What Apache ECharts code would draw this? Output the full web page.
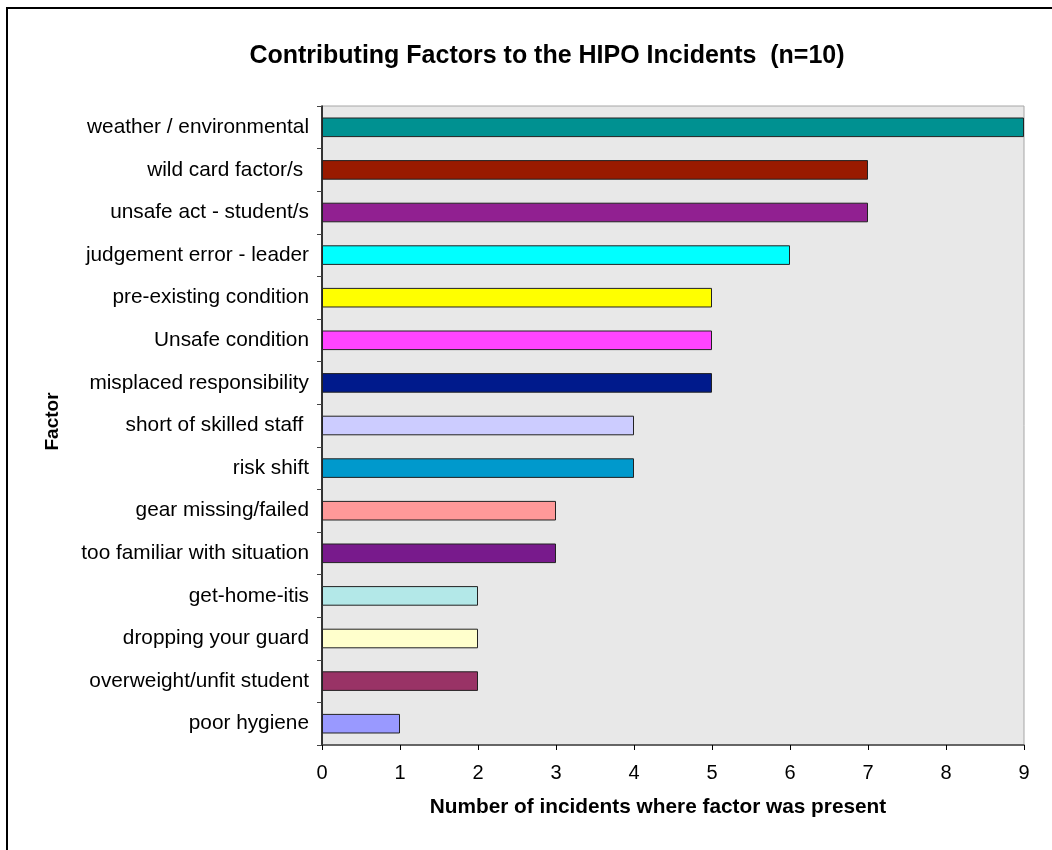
<!DOCTYPE html>
<html>
<head>
<meta charset="utf-8">
<script src="https://cdn.jsdelivr.net/npm/echarts@6/dist/echarts.min.js"></script>
<style>
  body { margin: 0; background: #fff; }
  #frame { position: absolute; left: 6px; top: 7px; width: 1060px; height: 860px; border-left: 2px solid #000; border-top: 2px solid #000; }
  #chart { position: absolute; left: 0; top: 0; width: 1052px; height: 850px; }
</style>
</head>
<body>
<div id="frame"></div>
<div id="chart"></div>
<script>
// factors, top to bottom
var factors = [
  "weather / environmental",
  "wild card factor/s ",
  "unsafe act - student/s",
  "judgement error - leader",
  "pre-existing condition",
  "Unsafe condition",
  "misplaced responsibility",
  "short of skilled staff ",
  "risk shift",
  "gear missing/failed",
  "too familiar with situation",
  "get-home-itis",
  "dropping your guard",
  "overweight/unfit student",
  "poor hygiene"
];
var counts = [9, 7, 7, 6, 5, 5, 5, 4, 4, 3, 3, 2, 2, 2, 1];
var barColors = [
  "#009191", "#991a00", "#912091", "#00ffff", "#ffff00",
  "#ff44ff", "#001a8c", "#ccccff", "#0099cc", "#ff9999",
  "#781a8c", "#b3e8e8", "#ffffcc", "#993366", "#9999ff"
];
var xTicks = [0, 1, 2, 3, 4, 5, 6, 7, 8, 9];

var chart = echarts.init(document.getElementById("chart"));
var font = "Liberation Sans, Arial, sans-serif";

var option = {
  animation: false,
  textStyle: { fontFamily: font },
  title: {
    text: "Contributing Factors to the HIPO Incidents  (n=10)",
    left: 542,
    textAlign: "center",
    top: 39,
    textStyle: { fontSize: 25, fontWeight: "bold", color: "#000", fontFamily: font }
  },
  grid: {
    left: 322,
    right: 28,
    top: 106,
    bottom: 105,
    show: true,
    backgroundColor: "#e8e8e8",
    borderColor: "#a6a6a6",
    borderWidth: 1
  },
  xAxis: {
    type: "value",
    min: xTicks[0],
    max: xTicks[xTicks.length - 1],
    interval: 1,
    name: "Number of incidents where factor was present",
    nameLocation: "middle",
    nameGap: 52,
    nameTextStyle: { fontSize: 20.8, fontWeight: "bold", color: "#000", fontFamily: font, padding: [0, 30, 0, 0] },
    axisLine: { show: true, lineStyle: { color: "#444", width: 1.5 } },
    axisTick: { show: true, length: 5, lineStyle: { color: "#000" } },
    axisLabel: { fontSize: 20, color: "#000", margin: 18, fontFamily: font },
    splitLine: { show: false }
  },
  yAxis: {
    type: "category",
    data: factors,
    inverse: true,
    name: "Factor",
    nameLocation: "middle",
    nameRotate: 90,
    nameGap: 260,
    nameTextStyle: { fontSize: 19, fontWeight: "bold", color: "#000", fontFamily: font, padding: [0, 0, 0, 8] },
    axisLine: { show: true, lineStyle: { color: "#000", width: 1.5 } },
    axisTick: { show: true, length: 5, lineStyle: { color: "#444" } },
    axisLabel: { fontSize: 20.8, color: "#000", margin: 13, fontFamily: font }
  },
  series: [{
    type: "bar",
    data: counts.map(function (v, i) {
      return { value: v, itemStyle: { color: barColors[i] } };
    }),
    barWidth: "46%",
    itemStyle: { borderColor: "#222", borderWidth: 1 }
  }]
};

chart.setOption(option);
</script>
</body>
</html>
